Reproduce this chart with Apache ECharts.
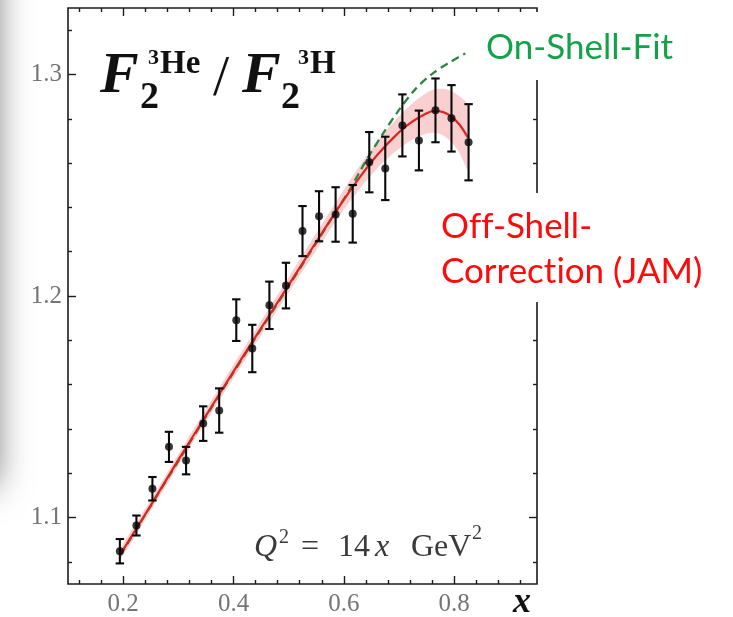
<!DOCTYPE html>
<html>
<head>
<meta charset="utf-8">
<script src="https://cdn.jsdelivr.net/npm/echarts@6/dist/echarts.min.js"></script>
<style>
  html, body { margin: 0; padding: 0; background: #ffffff; }
  #chart { width: 733px; height: 617px; }
</style>
</head>
<body>
<div id="chart"></div>
<script>
// Measured ratio F2(3He)/F2(3H) with errors
const dataX   = [0.194, 0.224, 0.253, 0.283, 0.314, 0.345, 0.374, 0.405, 0.434, 0.465, 0.495,
                 0.525, 0.555, 0.585, 0.616, 0.646, 0.675, 0.706, 0.736, 0.766, 0.795, 0.826];
const dataY   = [1.0848, 1.0964, 1.1130, 1.1319, 1.1257, 1.1424, 1.1483, 1.1891, 1.1763, 1.1958, 1.2047,
                 1.2293, 1.2360, 1.2368, 1.2371, 1.2604, 1.2576, 1.2770, 1.2702, 1.2838, 1.2802, 1.2694];
const dataErr = [0.0055, 0.0045, 0.0053, 0.0068, 0.0062, 0.0078, 0.0100, 0.0094, 0.0107, 0.0107, 0.0103,
                 0.0113, 0.0113, 0.0123, 0.0130, 0.0136, 0.0143, 0.0140, 0.0135, 0.0144, 0.0150, 0.0172];

// Off-shell correction (JAM) central curve and its uncertainty half-width
const jamX    = [0.195, 0.25, 0.30, 0.35, 0.40, 0.45, 0.50, 0.55, 0.60, 0.63, 0.66, 0.69, 0.72, 0.75, 0.765, 0.78, 0.795, 0.81, 0.825];
const jamY    = [1.0835, 1.1055, 1.1260, 1.1460, 1.1660, 1.1855, 1.2050, 1.2245, 1.2435, 1.2540, 1.2635, 1.2715, 1.2780, 1.2825, 1.2835, 1.2830, 1.2810, 1.2772, 1.2715];
const jamBand = [0.0022, 0.0024, 0.0026, 0.0028, 0.0030, 0.0032, 0.0035, 0.0039, 0.0045, 0.0052, 0.0060, 0.0070, 0.0080, 0.0092, 0.0098, 0.0105, 0.0115, 0.0128, 0.0145];

// On-shell fit
const onShellX = [0.195, 0.30, 0.40, 0.50, 0.55, 0.58, 0.61, 0.64, 0.67, 0.70, 0.73, 0.76, 0.79, 0.82];
const onShellY = [1.0830, 1.1255, 1.1655, 1.2045, 1.2240, 1.2360, 1.2478, 1.2610, 1.2730, 1.2840, 1.2935, 1.3003, 1.3052, 1.3095];

// Tick positions
const xMajorTicks = [0.2, 0.4, 0.6, 0.8];
const xMinorTicks = [0.12, 0.16, 0.24, 0.28, 0.32, 0.36, 0.44, 0.48, 0.52, 0.56, 0.64, 0.68, 0.72, 0.76, 0.84, 0.88, 0.92];
const yMajorTicks = [1.1, 1.2, 1.3];
const yMinorTicks = [1.08, 1.12, 1.14, 1.16, 1.18, 1.22, 1.24, 1.26, 1.28, 1.32];

const X_MIN = 0.1, X_MAX = 0.95, Y_MIN = 1.07, Y_MAX = 1.33;
const FRAME = '#1c1c1c';
const LABEL_FONT = '"Liberation Serif", "DejaVu Serif", serif';
const ZWNJ = '\u200C'; // keeps Lato from forming ff / ti ligatures

function makeAxis(kind, position, ticks, len, withLabels) {
  const ax = {
    type: 'value', min: kind === 'x' ? X_MIN : Y_MIN, max: kind === 'x' ? X_MAX : Y_MAX,
    position: position,
    axisLine: { show: false, onZero: false },
    splitLine: { show: false },
    axisTick: { show: true, inside: true, length: len, customValues: ticks,
                lineStyle: { color: FRAME, width: 1.4 } },
    axisLabel: { show: false }
  };
  if (withLabels) {
    ax.axisLabel = {
      show: true, customValues: ticks,
      formatter: v => v.toFixed(1),
      fontFamily: LABEL_FONT, fontSize: 25, color: '#747474',
      margin: kind === 'x' ? 8 : 6
    };
  }
  return ax;
}

const chart = echarts.init(document.getElementById('chart'), null, { renderer: 'canvas' });

const option = {
  backgroundColor: '#ffffff',
  animation: false,
  grid: { left: 68, right: 196, top: 8, bottom: 33, show: true,
          borderColor: FRAME, borderWidth: 1.6, backgroundColor: 'transparent' },
  xAxis: [
    makeAxis('x', 'bottom', xMajorTicks, 8, true),
    makeAxis('x', 'bottom', xMinorTicks, 4, false),
    makeAxis('x', 'top', xMajorTicks, 8, false),
    makeAxis('x', 'top', xMinorTicks, 4, false)
  ],
  yAxis: [
    makeAxis('y', 'left', yMajorTicks, 8, true),
    makeAxis('y', 'left', yMinorTicks, 4, false),
    makeAxis('y', 'right', yMajorTicks, 8, false),
    makeAxis('y', 'right', yMinorTicks, 4, false)
  ],
  series: [
    {
      // uncertainty band of the off-shell correction
      type: 'custom', name: 'JAM band', clip: true, z: 1, silent: true,
      data: [[jamX[0], jamY[0]]],
      renderItem: function (params, api) {
        const upper = [], lower = [];
        for (let i = 0; i < jamX.length; i++) {
          upper.push(api.coord([jamX[i], jamY[i] + jamBand[i]]));
          lower.push(api.coord([jamX[i], jamY[i] - jamBand[i]]));
        }
        return {
          type: 'polygon',
          shape: { points: upper.concat(lower.reverse()), smooth: 0.25 },
          style: { fill: 'rgba(236, 95, 100, 0.30)', stroke: null }
        };
      }
    },
    {
      type: 'line', name: 'On-Shell-Fit', z: 2, smooth: 0.3, showSymbol: false,
      data: onShellX.map((x, i) => [x, onShellY[i]]),
      lineStyle: { color: '#2f8440', width: 2.3, type: [8, 5] }
    },
    {
      type: 'line', name: 'Off-Shell-Correction (JAM)', z: 3, smooth: 0.3, showSymbol: false,
      data: jamX.map((x, i) => [x, jamY[i]]),
      lineStyle: { color: '#da2620', width: 2.2 }
    },
    {
      // error bars with caps
      type: 'custom', name: 'errors', z: 4, silent: true,
      data: dataX.map((x, i) => [x, dataY[i] - dataErr[i], dataY[i] + dataErr[i]]),
      renderItem: function (params, api) {
        const lo = api.coord([api.value(0), api.value(1)]);
        const hi = api.coord([api.value(0), api.value(2)]);
        const w = 4.2;
        const st = { stroke: '#0a0a0a', lineWidth: 2.1 };
        return {
          type: 'group',
          children: [
            { type: 'line', shape: { x1: lo[0], y1: lo[1], x2: hi[0], y2: hi[1] }, style: st },
            { type: 'line', shape: { x1: lo[0] - w, y1: lo[1], x2: lo[0] + w, y2: lo[1] }, style: st },
            { type: 'line', shape: { x1: hi[0] - w, y1: hi[1], x2: hi[0] + w, y2: hi[1] }, style: st }
          ]
        };
      }
    },
    {
      type: 'scatter', name: 'data', z: 5, symbol: 'circle', symbolSize: 8,
      data: dataX.map((x, i) => [x, dataY[i]]),
      itemStyle: { color: '#050505' }
    }
  ],
  graphic: [
    // soft grey shade along the left edge
    { type: 'rect', z: 50, silent: true,
      shape: { x: -90, y: -60, width: 84, height: 545 },
      style: { fill: '#666', shadowBlur: 36, shadowColor: 'rgba(0,0,0,0.62)' } },

    // white boxes behind the curve labels
    { type: 'rect', z: 60, shape: { x: 526, y: 12, width: 210, height: 68 }, style: { fill: '#fff' } },
    { type: 'rect', z: 60, shape: { x: 526, y: 193, width: 210, height: 109 }, style: { fill: '#fff' } },

    // F2^{3He} / F2^{3H}
    { type: 'text', z: 70, x: 100, y: 77, style: { text: 'F', font: 'italic bold 58px "Liberation Serif"', fill: '#111', textVerticalAlign: 'middle' } },
    { type: 'text', z: 70, x: 140, y: 98, style: { text: '2', font: 'bold 38px "Liberation Serif"', fill: '#111', textVerticalAlign: 'middle' } },
    { type: 'text', z: 70, x: 148, y: 58, style: { text: '3', font: 'bold 22px "Liberation Serif"', fill: '#111', textVerticalAlign: 'middle' } },
    { type: 'text', z: 70, x: 160, y: 64, style: { text: 'He', font: 'bold 33px "Liberation Serif"', fill: '#111', textVerticalAlign: 'middle' } },
    { type: 'text', z: 70, x: 213, y: 80, style: { text: '/', font: '58px "Liberation Serif"', fill: '#111', textVerticalAlign: 'middle' } },
    { type: 'text', z: 70, x: 242, y: 77, style: { text: 'F', font: 'italic bold 58px "Liberation Serif"', fill: '#111', textVerticalAlign: 'middle' } },
    { type: 'text', z: 70, x: 281, y: 98, style: { text: '2', font: 'bold 38px "Liberation Serif"', fill: '#111', textVerticalAlign: 'middle' } },
    { type: 'text', z: 70, x: 298, y: 58, style: { text: '3', font: 'bold 22px "Liberation Serif"', fill: '#111', textVerticalAlign: 'middle' } },
    { type: 'text', z: 70, x: 310, y: 64, style: { text: 'H', font: 'bold 33px "Liberation Serif"', fill: '#111', textVerticalAlign: 'middle' } },

    // Q^2 = 14x GeV^2
    { type: 'text', z: 70, x: 254, y: 548, style: { text: 'Q', font: 'italic 32px "Liberation Serif"', fill: '#3a3a3a', textVerticalAlign: 'middle' } },
    { type: 'text', z: 70, x: 279, y: 538, style: { text: '2', font: '20px "Liberation Serif"', fill: '#3a3a3a', textVerticalAlign: 'middle' } },
    { type: 'text', z: 70, x: 301, y: 548, style: { text: '=', font: '32px "Liberation Serif"', fill: '#3a3a3a', textVerticalAlign: 'middle' } },
    { type: 'text', z: 70, x: 338, y: 548, style: { text: '14', font: '32px "Liberation Serif"', fill: '#3a3a3a', textVerticalAlign: 'middle' } },
    { type: 'text', z: 70, x: 375, y: 548, style: { text: 'x', font: 'italic 32px "Liberation Serif"', fill: '#3a3a3a', textVerticalAlign: 'middle' } },
    { type: 'text', z: 70, x: 411, y: 548, style: { text: 'GeV', font: '32px "Liberation Serif"', fill: '#3a3a3a', textVerticalAlign: 'middle' } },
    { type: 'text', z: 70, x: 472, y: 534, style: { text: '2', font: '20px "Liberation Serif"', fill: '#3a3a3a', textVerticalAlign: 'middle' } },

    // axis name
    { type: 'text', z: 70, x: 522, y: 603, style: { text: 'x', font: 'italic bold 36px "Liberation Serif"', fill: '#111', textAlign: 'center', textVerticalAlign: 'middle' } },

    // curve labels
    { type: 'text', z: 70, x: 486, y: 48, style: { text: 'On-Shell-Fit', font: '35px Lato', fill: '#13a24a', textVerticalAlign: 'middle' } },
    { type: 'text', z: 70, x: 441, y: 227, style: { text: 'Of' + ZWNJ + 'f-Shell-', font: '35px Lato', fill: '#ff0a0a', textVerticalAlign: 'middle' } },
    { type: 'text', z: 70, x: 441, y: 272, style: { text: 'Correct' + ZWNJ + 'ion (JAM)', font: '35px Lato', fill: '#ff0a0a', textVerticalAlign: 'middle' } }
  ]
};

chart.setOption(option);
</script>
</body>
</html>
